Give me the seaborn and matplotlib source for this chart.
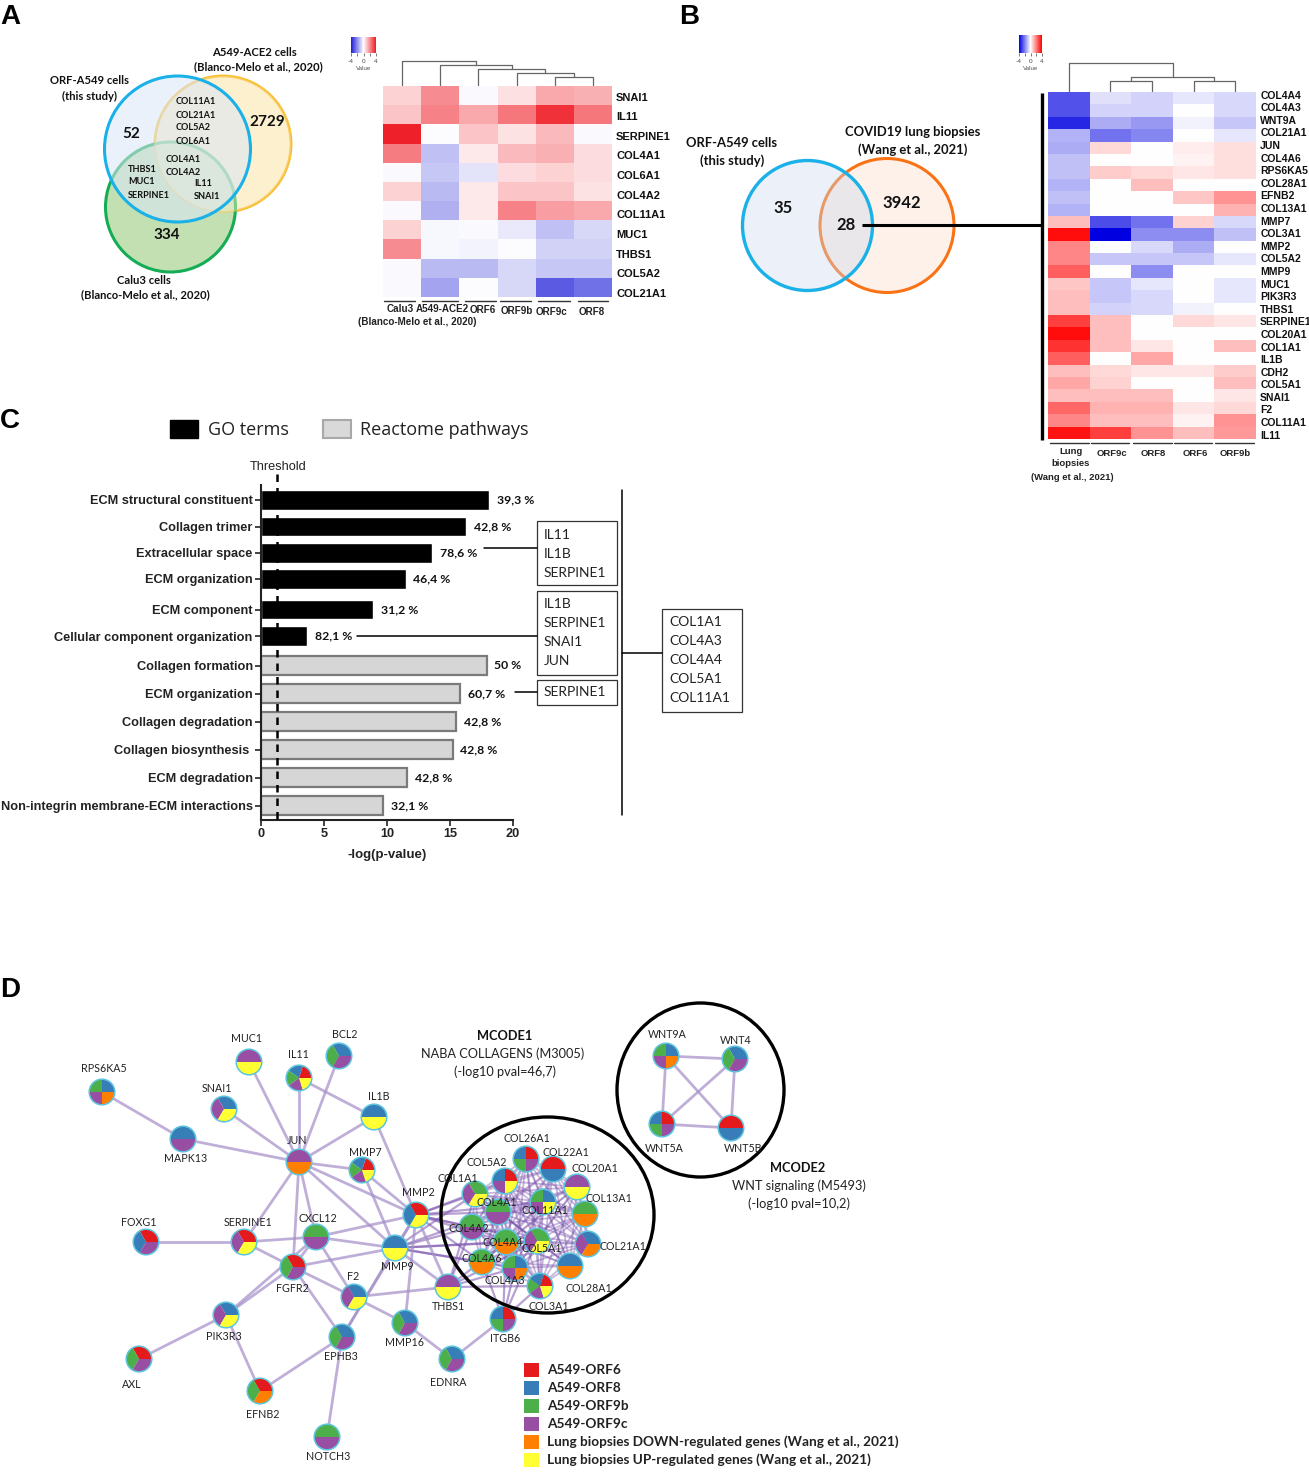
from itertools import combinations

import matplotlib
matplotlib.use("Agg")
import matplotlib.pyplot as plt
import numpy as np
import pandas as pd
import seaborn as sns
from matplotlib.colors import LinearSegmentedColormap
from matplotlib.patches import Circle, Ellipse, Rectangle, Wedge

W, H = 1309, 1482

# Panel A heatmap
genes_a = ["SNAI1", "IL11", "SERPINE1", "COL4A1", "COL6A1", "COL4A2", "COL11A1",
           "MUC1", "THBS1", "COL5A2", "COL21A1"]
cols_a = ["Calu3", "A549-ACE2", "ORF6", "ORF9b", "ORF9c", "ORF8"]
calu3 = [0.8, 1.0, 3.9, 2.3, -0.1, 0.8, -0.1, 0.8, 2.0, -0.1, -0.1]
ace2 = [2.0, 2.2, -0.05, -1.1, -1.0, -1.2, -1.4, -0.15, -0.15, -1.2, -1.6]
orf6_a = [-0.1, 1.5, 1.0, 0.4, -0.5, 0.4, 0.4, -0.1, -0.2, -1.2, -0.05]
orf9b_a = [0.55, 2.4, 0.5, 1.2, 0.6, 1.0, 2.2, -0.4, -0.05, -0.7, -0.7]
orf9c_a = [1.5, 3.6, 1.2, 1.4, 0.8, 1.0, 1.7, -1.1, -0.8, -1.0, -2.9]
orf8_a = [1.4, 2.4, -0.1, 0.6, 0.6, 0.5, 1.5, -0.7, -0.8, -1.0, -2.5]

# Panel B heatmap
genes_b = ["COL4A4", "COL4A3", "WNT9A", "COL21A1", "JUN", "COL4A6", "RPS6KA5", "COL28A1",
           "EFNB2", "COL13A1", "MMP7", "COL3A1", "MMP2", "COL5A2", "MMP9", "MUC1", "PIK3R3",
           "THBS1", "SERPINE1", "COL20A1", "COL1A1", "IL1B", "CDH2", "COL5A1", "SNAI1", "F2",
           "COL11A1", "IL11"]
lung = [-2.7, -2.7, -3.4, -1.2, -1.3, -1.0, -1.0, -1.2, -1.0, -1.2, 1.0, 3.8, 1.9, 1.9,
        2.5, 0.9, 1.0, 1.0, 3.0, 3.8, 3.2, 2.5, 1.0, 1.4, 1.0, 2.4, 1.9, 3.7]
orf9c_b = [-0.5, -0.7, -1.3, -2.2, 0.6, 0.0, 0.8, 0.0, 0.0, 0.0, -2.8, -4.0, 0.0, -0.9,
           0.0, -0.9, -0.9, -0.7, 1.0, 1.0, 1.0, 0.0, 0.6, 0.7, 1.0, 1.2, 1.0, 3.0]
orf8_b = [-0.7, -0.7, -1.6, -1.9, 0.0, 0.0, 0.6, 1.0, 0.0, 0.0, -2.2, -1.8, -0.6, -0.9,
          -1.8, -0.4, -0.6, -0.6, 0.0, 0.0, 0.4, 1.4, 0.4, 0.0, 1.0, 1.2, 1.0, 1.7]
orf6_b = [-0.4, 0.0, -0.2, 0.0, 0.3, 0.2, 0.4, 0.0, 0.9, 0.0, 0.7, -1.8, -1.3, -0.9,
          0.0, 0.0, 0.0, -0.2, 0.6, 0.0, 0.0, 0.0, 0.4, 0.0, 0.0, 0.4, 0.2, 1.0]
orf9b_b = [-0.6, -0.6, -0.9, -0.4, 0.5, 0.5, 0.5, 0.0, 1.7, 1.2, -0.6, -1.0, 0.0, -0.4,
           0.0, -0.4, -0.4, 0.0, 0.4, 0.0, 1.0, 0.0, 0.8, 1.0, 0.4, 0.6, 1.7, 1.6]

# dendrograms: (x of left group, x of right group, merge height), x in column units
dendro_a = [(4.5, 5.5, 8), (3.5, 5.0, 12), (2.5, 4.25, 16), (1.5, 3.375, 20), (0.5, 2.4375, 24)]
dendro_b = [(1.5, 2.5, 10), (3.5, 4.5, 10), (2.0, 4.0, 14), (0.5, 3.0, 28)]

# Panel C
terms = ["ECM structural constituent", "Collagen trimer", "Extracellular space",
         "ECM organization", "ECM component", "Cellular component organization",
         "Collagen formation", "ECM organization", "Collagen degradation",
         "Collagen biosynthesis ", "ECM degradation", "Non-integrin membrane-ECM interactions"]
logp = [18.1, 16.3, 13.6, 11.5, 8.9, 3.65, 17.9, 15.8, 15.5, 15.2, 11.6, 9.7]
pct = ["39,3 %", "42,8 %", "78,6 %", "46,4 %", "31,2 %", "82,1 %", "50 %", "60,7 %",
       "42,8 %", "42,8 %", "42,8 %", "32,1 %"]
group = ["GO terms"] * 6 + ["Reactome pathways"] * 6
bar_pos = [500, 526.5, 553, 579, 609.5, 636, 665.5, 693.5, 721.5, 749.5, 777.5, 805.5]
threshold = 1.3

# Panel D network: R B G P O Y = ORF6 ORF8 ORF9b ORF9c down up
node_table = [
    ("RPS6KA5", 102, 1092, "BGPO", 104, 1068), ("MAPK13", 183, 1139, "BP", 186, 1159),
    ("MUC1", 249, 1062, "PY", 247, 1039), ("IL11", 299, 1078, "RBGPY", 298, 1055),
    ("BCL2", 339, 1056, "BGP", 345, 1034), ("SNAI1", 224, 1109, "BPY", 217, 1089),
    ("IL1B", 374, 1117, "BY", 379, 1097), ("JUN", 299, 1162, "PO", 297, 1140),
    ("MMP7", 362, 1170, "RBGPY", 365, 1152), ("MMP2", 416, 1215, "RBY", 418, 1193),
    ("FOXG1", 146, 1242, "RBP", 139, 1223), ("SERPINE1", 244, 1242, "RPY", 248, 1223),
    ("CXCL12", 316, 1237, "GP", 318, 1219), ("FGFR2", 293, 1267, "RGP", 292, 1289),
    ("MMP9", 395, 1248, "BY", 397, 1266), ("F2", 354, 1297, "BPY", 353, 1277),
    ("THBS1", 448, 1287, "PY", 448, 1306), ("PIK3R3", 226, 1315, "BPY", 224, 1337),
    ("AXL", 139, 1359, "RGP", 132, 1384), ("EFNB2", 260, 1391, "RGO", 263, 1415),
    ("EPHB3", 342, 1337, "BGP", 341, 1357), ("MMP16", 405, 1323, "BGP", 404, 1342),
    ("EDNRA", 452, 1359, "BGP", 448, 1382), ("NOTCH3", 327, 1437, "GP", 328, 1456),
    ("ITGB6", 503, 1319, "RBGP", 505, 1339),
    ("COL26A1", 526, 1159, "RBGP", 527, 1139), ("COL22A1", 553, 1169, "RB", 566, 1152),
    ("COL5A2", 505, 1181, "RBPY", 487, 1163), ("COL20A1", 577, 1187, "PY", 595, 1168),
    ("COL1A1", 475, 1194, "GPY", 458, 1179), ("COL4A1", 498, 1212, "GP", 497, 1203),
    ("COL11A1", 543, 1202, "BGPY", 545, 1210), ("COL13A1", 585, 1214, "GO", 609, 1198),
    ("COL4A2", 472, 1227, "GP", 469, 1228), ("COL5A1", 537, 1241, "GPY", 542, 1249),
    ("COL4A4", 506, 1242, "GO", 503, 1242), ("COL21A1", 588, 1244, "BPO", 623, 1247),
    ("COL4A6", 482, 1262, "GO", 482, 1258), ("COL4A3", 515, 1268, "BGPO", 505, 1280),
    ("COL28A1", 570, 1266, "BO", 589, 1288), ("COL3A1", 540, 1286, "RBGPY", 549, 1306),
    ("WNT9A", 666, 1056, "BGPO", 667, 1035), ("WNT4", 735, 1059, "BGP", 736, 1041),
    ("WNT5A", 662, 1124, "RBGP", 664, 1148), ("WNT5B", 731, 1128, "RB", 743, 1148),
]
collagen = ["COL26A1", "COL22A1", "COL5A2", "COL20A1", "COL1A1", "COL4A1", "COL11A1", "COL13A1",
            "COL4A2", "COL5A1", "COL4A4", "COL21A1", "COL4A6", "COL4A3", "COL28A1", "COL3A1"]
edges = """RPS6KA5-MAPK13 MAPK13-JUN SNAI1-JUN MUC1-JUN IL11-JUN BCL2-JUN IL11-IL1B IL1B-JUN IL1B-MMP2
JUN-MMP7 JUN-MMP2 JUN-MMP9 JUN-SERPINE1 JUN-FGFR2 JUN-CXCL12 MMP7-MMP2 MMP7-MMP9 MMP2-CXCL12
MMP2-MMP9 MMP2-THBS1 MMP2-MMP16 MMP2-EPHB3 FOXG1-SERPINE1 SERPINE1-CXCL12 SERPINE1-FGFR2
CXCL12-FGFR2 CXCL12-MMP9 CXCL12-F2 FGFR2-MMP9 FGFR2-F2 FGFR2-EPHB3 FGFR2-PIK3R3 CXCL12-PIK3R3
F2-THBS1 F2-MMP16 PIK3R3-AXL PIK3R3-EFNB2 EFNB2-EPHB3 EPHB3-NOTCH3 EPHB3-MMP9 MMP16-EDNRA
MMP9-THBS1 EDNRA-ITGB6 WNT9A-WNT4 WNT9A-WNT5A WNT9A-WNT5B WNT4-WNT5A WNT4-WNT5B WNT5A-WNT5B""".split()
hub_edges = """MMP2-COL1A1 MMP2-COL4A1 MMP2-COL4A2 MMP2-COL5A2 MMP2-COL11A1 MMP2-COL4A4 MMP2-COL4A6
MMP2-COL5A1 MMP9-COL1A1 MMP9-COL4A1 MMP9-COL4A2 MMP9-COL4A4 MMP9-COL4A6 MMP9-COL5A1 MMP9-COL4A3
THBS1-COL1A1 THBS1-COL4A2 THBS1-COL4A4 THBS1-COL4A3 THBS1-COL3A1 THBS1-COL5A1 ITGB6-COL4A6
ITGB6-COL4A4 ITGB6-COL4A3 ITGB6-COL3A1 ITGB6-COL5A1""".split()

legend_d = ["A549-ORF6", "A549-ORF8", "A549-ORF9b", "A549-ORF9c",
            "Lung biopsies DOWN-regulated genes (Wang et al., 2021)",
            "Lung biopsies UP-regulated genes (Wang et al., 2021)"]
slice_colors = {"R": "#e41a1c", "B": "#377eb8", "G": "#4daf4a",
                "P": "#984ea3", "O": "#ff7f00", "Y": "#ffff33"}

sns.set_style("white")
plt.rcParams["font.family"] = ["Lato", "DejaVu Sans"]
ARIAL = "Liberation Sans"


def px_axes(left, top, right, bottom, **kw):
    return fig.add_axes([left / W, 1 - bottom / H, (right - left) / W, (bottom - top) / H], **kw)


fig = plt.figure(figsize=(W / 100, H / 100), dpi=100, facecolor="white")


def draw_heat(df, box, cbar_box, fs, tick_start, tick_step, colors):
    cmap = LinearSegmentedColormap.from_list("bwr2", colors)
    ax = px_axes(*box)
    cax = px_axes(*cbar_box)
    sns.heatmap(df, ax=ax, cmap=cmap, vmin=-4, vmax=4, xticklabels=False, yticklabels=True,
                cbar_ax=cax, cbar_kws={"orientation": "horizontal", "ticks": [-4, -2, 0, 2, 4]})
    # the gene labels drift slightly against the rows in the original
    ax.set_yticks(tick_start + tick_step * np.arange(len(df)))
    ax.set_yticklabels(df.index)
    ax.yaxis.tick_right()
    ax.tick_params(axis="y", length=0, pad=3, labelrotation=0)
    for t in ax.get_yticklabels():
        t.set(fontfamily=ARIAL, fontweight="bold", fontsize=fs, color="#111111", rotation=0, va="center")
    ax.set_xlabel("")
    ax.set_ylabel("")
    cax.set_xticklabels(["-4", "", "0", "", "4"])
    cax.tick_params(axis="x", length=2, width=0.5, labelsize=4.5, pad=2, colors="#444444")
    cax.set_xlabel("Value", fontsize=4.5, color="#555555", labelpad=2, fontfamily=ARIAL)
    return ax


df_a = pd.DataFrame(dict(zip(cols_a, [calu3, ace2, orf6_a, orf9b_a, orf9c_a, orf8_a])), index=genes_a)
df_b = pd.DataFrame(dict(zip(["Lung", "ORF9c", "ORF8", "ORF6", "ORF9b"],
                             [lung, orf9c_b, orf8_b, orf6_b, orf9b_b])), index=genes_b)
box_a = (383, 86, 612, 297)
box_b = (1048, 92, 1256, 439)
draw_heat(df_a, box_a, (351, 37, 376, 53), 8, 0.609, 1.022, ["#1c1cd8", "#ffffff", "#ee1c25"])
draw_heat(df_b, box_b, (1019, 35, 1042, 53), 7.5, 0.30, 1.016, ["#0000e0", "#ffffff", "#ff0000"])

# bar chart
df_c = pd.DataFrame({"term": terms, "value": logp, "group": group, "pos": bar_pos})
ax_c = px_axes(261, 485, 513, 820)
sns.barplot(data=df_c, x="value", y="pos", hue="group", orient="y", native_scale=True, dodge=False,
            palette={"GO terms": "#000000", "Reactome pathways": "#d6d6d6"}, width=0.74,
            legend=False, ax=ax_c)
for bar in ax_c.containers[1]:
    bar.set_edgecolor("#7a7a7a")
    bar.set_linewidth(1.6)
ax_c.set_xlim(0, 20)
ax_c.set_ylim(820, 485)
ax_c.set_yticks(bar_pos)
ax_c.set_yticklabels(terms, fontfamily=ARIAL, fontweight="bold", fontsize=9.2, color="#222222")
ax_c.set_xticks([0, 5, 10, 15, 20])
ax_c.set_xticklabels(["0", "5", "10", "15", "20"], fontfamily=ARIAL, fontsize=9.2, fontweight="bold", color="#222222")
ax_c.tick_params(axis="both", length=4, width=1.2, color="#222222", bottom=True, left=True, pad=2)
ax_c.set_xlabel("-log(p-value)", fontfamily=ARIAL, fontweight="bold", fontsize=9.5, labelpad=6, color="#222222")
ax_c.set_ylabel("")
sns.despine(ax=ax_c)
for side in ["left", "bottom"]:
    ax_c.spines[side].set_linewidth(1.5)
    ax_c.spines[side].set_color("#222222")
ax_c.plot([threshold, threshold], [474, 820], color="black", lw=1.8, ls=(0, (3, 2.4)), clip_on=False, zorder=5)
for v, p, lab in zip(logp, bar_pos, pct):
    ax_c.text(v + 0.6, p, lab, fontweight="bold", fontsize=8.8, va="center", ha="left", color="#111111")

# overlay in picture pixels for venns, network and annotations
ov = fig.add_axes([0, 0, 1, 1], zorder=10)
ov.set_xlim(0, W)
ov.set_ylim(H, 0)
ov.axis("off")
ov.patch.set_alpha(0)


def txt(x, y, s, fs=8, bold=False, ha="center", color="#111111", **kw):
    ov.text(x, y, s, fontsize=fs, fontweight="bold" if bold else "normal", ha=ha, va="center", color=color, **kw)


for letter, x, y in [("A", 0, 17), ("B", 679, 17), ("C", 0, 421), ("D", 0, 990)]:
    txt(x, y, letter, fs=20, bold=True, ha="left", color="black", fontfamily=ARIAL)

# venn A
ov.add_patch(Circle((223, 144), 68, fc="#fdf0cf", ec="#fbbb1a", lw=2))
ov.add_patch(Circle((170.5, 207), 65, fc="#c3e0b3", ec="#14ad55", lw=2.2))
ov.add_patch(Circle((223, 144), 68, fc="#fdf0cf", ec="#f5c65a", lw=1.5, alpha=0.45))
ov.add_patch(Circle((177.5, 149), 73, fc="#dbe6f7", ec="none", alpha=0.55))
ov.add_patch(Circle((177.5, 149), 73, fc="none", ec="#1ab0e8", lw=2.2))
txt(254, 52, "A549-ACE2 cells", 8.1, True)
txt(258, 67, "(Blanco-Melo et al., 2020)", 8.1, True)
txt(89, 81, "ORF-A549 cells", 8.1, True)
txt(89, 96, "(this study)", 8.1, True)
txt(131, 134, "52", 11, True)
txt(267, 122, "2729", 11, True)
txt(167, 235, "334", 11, True)
txt(144, 280, "Calu3 cells", 8.1, True)
txt(145, 295, "(Blanco-Melo et al., 2020)", 8.1, True)
for i, g in enumerate(["COL11A1", "COL21A1", "COL5A2", "COL6A1"]):
    txt(176, 102 + 13 * i, g, 6.6, True, ha="left")
for i, g in enumerate(["COL4A1", "COL4A2"]):
    txt(166, 159 + 13.5 * i, g, 6.6, True, ha="left")
for i, g in enumerate(["THBS1", "MUC1", "SERPINE1"]):
    txt(128, 169 + 13 * i, g, 6.6, True, ha="left")
for i, g in enumerate(["IL11", "SNAI1"]):
    txt(194, 183 + 13.5 * i, g, 6.6, True, ha="left")

# venn B
ov.add_patch(Circle((887, 225.5), 67, fc="#fdf1e9", ec="#f97316", lw=2.2))
ov.add_patch(Circle((807.5, 225.5), 65, fc="#cbd9f0", ec="none", alpha=0.38))
ov.add_patch(Circle((807.5, 225.5), 65, fc="none", ec="#1ab0e8", lw=2.4))
txt(732, 143, "ORF-A549 cells", 9.4, True)
txt(732, 161, "(this study)", 9.4, True)
txt(913, 132, "COVID19 lung biopsies", 9.4, True)
txt(913, 150, "(Wang et al., 2021)", 9.4, True)
txt(783, 208, "35", 12, True)
txt(902, 203, "3942", 12, True)
txt(846, 225, "28", 12, True)
ov.plot([862, 1043], [225, 225], color="black", lw=2.2, solid_capstyle="butt")
ov.plot([1042, 1042], [93, 440], color="black", lw=2.4, solid_capstyle="butt")


def dendro(box, ncol, merges):
    left, top, right, _ = box
    step = (right - left) / ncol
    # leaves start at the heatmap top, each merge hangs from whatever is below it
    h_at = {}
    for a, b, h in merges:
        ya, yb = h_at.get(a, 0), h_at.get(b, 0)
        xa, xb = left + a * step, left + b * step
        y = top - 1 - h
        ov.plot([xa, xa, xb, xb], [top - 1 - ya, y, y, top - 1 - yb], color="#666666", lw=0.9)
        h_at[(a + b) / 2] = h


dendro(box_a, 6, dendro_a)
dendro(box_b, 5, dendro_b)

# column labels and brackets under the heatmaps
spans_a = [(384, 415), (422, 458), (465, 496), (500, 531), (538, 570), (578, 608)]
for a, b in spans_a:
    ov.plot([a, b], [300.5, 300.5], color="#333333", lw=1)
for x, y, s in [(400, 309, "Calu3"), (442, 309, "A549-ACE2"), (483, 310, "ORF6"), (517, 311, "ORF9b"),
                (552, 312, "ORF9c"), (592, 312, "ORF8"), (417, 322, "(Blanco-Melo et al., 2020)")]:
    txt(x, y, s, 7.1, True, fontfamily=ARIAL, color="#222222")
spans_b = [(1050, 1089), (1091, 1129), (1133, 1172), (1174, 1212), (1215, 1254)]
for a, b in spans_b:
    ov.plot([a, b], [443, 443], color="#333333", lw=1)
for x, y, s in [(1071, 452, "Lung"), (1071, 464, "biopsies"), (1072, 477, "(Wang et al., 2021)"),
                (1112, 454, "ORF9c"), (1153, 454, "ORF8"), (1195, 454, "ORF6"), (1235, 453, "ORF9b")]:
    txt(x, y, s, 6.8, True, fontfamily=ARIAL, color="#222222")

# panel C legend, threshold and gene boxes
ov.add_patch(Rectangle((170, 420), 28, 18, fc="black", ec="black"))
ov.add_patch(Rectangle((323, 420), 28, 18, fc="#d9d9d9", ec="#a8a8a8", lw=1.5))
txt(208, 430, "GO terms", 13, ha="left", color="#222222", fontfamily="Open Sans")
txt(360, 430, "Reactome pathways", 13, ha="left", color="#222222", fontfamily="Open Sans")
txt(278, 467, "Threshold", 9.2, fontfamily=ARIAL, color="#222222")

gene_boxes = [((537, 521, 80, 64), 544, [535, 554, 573], ["IL11", "IL1B", "SERPINE1"]),
              ((537, 591, 80, 84), 544, [604, 623, 642, 661], ["IL1B", "SERPINE1", "SNAI1", "JUN"]),
              ((537, 680, 80, 25), 544, [692], ["SERPINE1"]),
              ((662, 609, 80, 103), 669, [622, 641, 660, 679, 698],
               ["COL1A1", "COL4A3", "COL4A4", "COL5A1", "COL11A1"])]
for (x, y, w, h), tx, ys, names in gene_boxes:
    ov.add_patch(Rectangle((x, y), w, h, fc="white", ec="#333333", lw=0.9))
    for ty, name in zip(ys, names):
        txt(tx, ty, name, 10, ha="left", color="#222222")
for xs, ys in [((484, 537), (548, 548)), ((357, 537), (636, 636)), ((515, 537), (692, 692)),
               ((622, 622), (490, 815)), ((622, 662), (653, 653))]:
    ov.plot(xs, ys, color="black", lw=1.1)

# panel D network
pos = {n[0]: (n[1], n[2]) for n in node_table}


def link(a, b, **kw):
    ov.plot([pos[a][0], pos[b][0]], [pos[a][1], pos[b][1]], solid_capstyle="round", **kw)


for a, b in combinations(collagen, 2):
    link(a, b, color="#7c55ad", lw=1.3, alpha=0.42, zorder=2)
for e in hub_edges:
    a, b = e.split("-")
    link(a, b, color="#7c55ad", lw=1.6, alpha=0.55, zorder=2)
for e in edges:
    a, b = e.split("-")
    link(a, b, color="#a48ec8", lw=2, alpha=0.7, zorder=2)

for name, x, y, sets, lx, ly in node_table:
    frac = 360 / len(sets)
    for i, key in enumerate(sets):
        # y runs downward here, so angles are mirrored to go counterclockwise on screen
        ov.add_patch(Wedge((x, y), 12.5, -(i + 1) * frac, -i * frac, fc=slice_colors[key], ec="none", zorder=3))
    ov.add_patch(Circle((x, y), 12.8, fc="none", ec="#5cc4dc", lw=1.1, zorder=4))
    txt(lx, ly, name, 7.7, color="#222222", zorder=7)

ov.add_patch(Ellipse((547.5, 1215), 213, 196, fc="none", ec="black", lw=2.4, zorder=6))
ov.add_patch(Ellipse((700.5, 1090), 167, 174, fc="none", ec="black", lw=2.4, zorder=6))

txt(505, 1036, "MCODE1", 9.2, True)
txt(503, 1054, "NABA COLLAGENS (M3005)", 9.2, color="#222222")
txt(505, 1072, "(-log10 pval=46,7)", 9.2, color="#222222")
txt(798, 1168, "MCODE2", 9.2, True)
txt(799, 1186, "WNT signaling (M5493)", 9.2, color="#222222")
txt(799, 1204, "(-log10 pval=10,2)", 9.2, color="#222222")

for i, (label, key) in enumerate(zip(legend_d, "RBGPOY")):
    y = 1370 + 18 * i
    ov.add_patch(Rectangle((524, y - 7), 15, 14, fc=slice_colors[key], ec="none"))
    txt(547, y, label, 9.8, True, ha="left", color="#222222")

fig.savefig("out.png", dpi=100)
